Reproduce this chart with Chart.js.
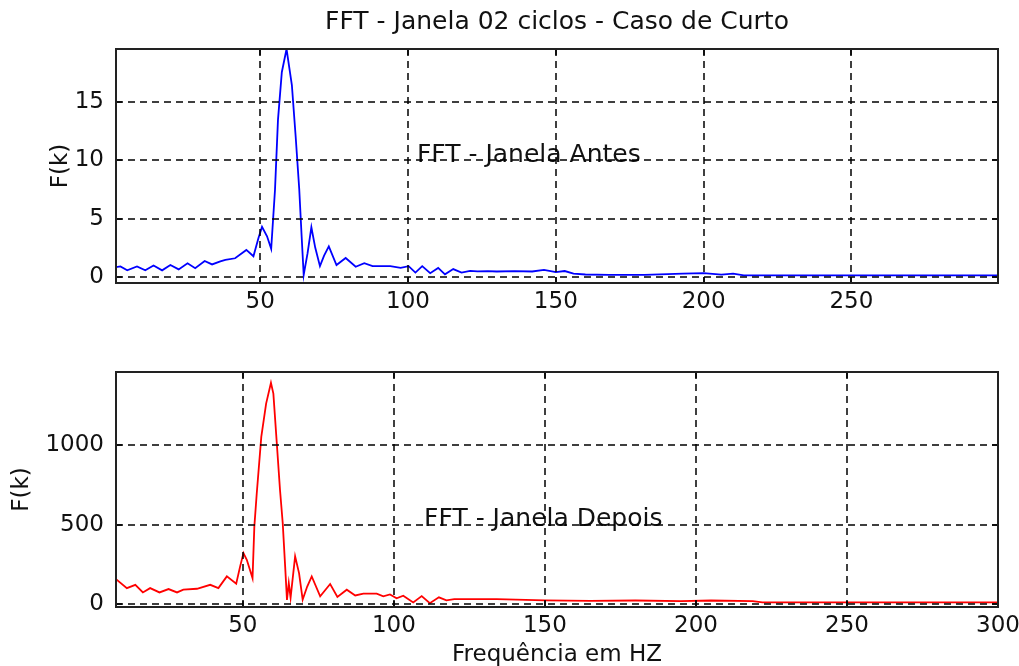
<!DOCTYPE html>
<html lang="pt-BR">
<head>
<meta charset="utf-8">
<title>FFT - Janela 02 ciclos - Caso de Curto</title>
<script src="https://cdn.jsdelivr.net/npm/chart.js@4.4.1/dist/chart.umd.min.js"></script>
<style>
    html, body { margin: 0; padding: 0; background: #fff; overflow: hidden; }
    #grafAntes { position: absolute; left: 0; top: 0; }
    #grafDepois { position: absolute; left: 0; top: 335px; }
</style>
</head>
<body>
<canvas id="grafAntes" width="1019" height="335"></canvas>
<canvas id="grafDepois" width="1019" height="340"></canvas>
<script>
// fft.js - Espectro da janela de 02 ciclos, antes e depois do curto

// Janela antes do curto (Hz / F(k))
const freqAntes = [
    1.2, 2.7, 5.0, 8.3, 11.1, 13.9, 16.8, 19.6, 22.4, 25.4, 28.0, 31.2, 33.7, 36.5, 38.2,
    41.5, 45.3, 47.7, 49.4, 50.6, 52.3, 53.7, 55.0, 56.0, 57.3, 58.9, 60.7, 62.0, 63.2, 64.0,
    64.7, 66.0, 67.3, 68.6, 70.2, 71.6, 73.2, 75.8, 78.9, 82.3, 85.2, 88.0, 94.0, 97.5, 100.2,
    102.5, 104.8, 107.5, 110.2, 112.5, 115.3, 118.1, 121.0, 123.5, 127.0, 130.0, 136.0, 142.0, 146.0, 150.0,
    153.0, 156.0, 160.0, 168.0, 180.0, 193.0, 200.0, 206.0, 210.0, 213.6, 299.6
];
const fkAntes = [
    0.82, 0.88, 0.55, 0.88, 0.54, 0.95, 0.54, 1.0, 0.62, 1.15, 0.72, 1.35, 1.05, 1.32, 1.45,
    1.58, 2.3, 1.75, 3.33, 4.28, 3.47, 2.4, 7.5, 13.5, 17.6, 19.6, 16.5, 12.0, 7.5, 3.5,
    0.15, 2.0, 4.25, 2.5, 0.9, 1.8, 2.6, 1.0, 1.6, 0.85, 1.15, 0.9, 0.9, 0.75, 0.9,
    0.35, 0.9, 0.3, 0.75, 0.2, 0.65, 0.35, 0.5, 0.45, 0.48, 0.44, 0.47, 0.44, 0.58, 0.38,
    0.48, 0.25, 0.18, 0.15, 0.15, 0.25, 0.3, 0.17, 0.25, 0.1, 0.1
];

// Janela depois do curto (Hz / F(k))
const freqDepois = [
    8.0, 11.6, 14.4, 16.9, 19.3, 22.4, 25.4, 28.2, 30.3, 34.8, 39.2, 41.9, 44.7, 47.8, 49.1,
    50.2, 51.3, 53.2, 53.8, 54.6, 56.1, 57.7, 59.3, 60.1, 61.2, 62.3, 63.2, 64.0, 64.6, 65.2,
    65.8, 67.3, 68.6, 69.8, 71.3, 72.8, 75.6, 78.9, 81.3, 84.4, 87.2, 89.9, 94.3, 96.5, 98.7,
    100.9, 103.1, 106.4, 109.2, 111.9, 114.9, 117.4, 120.0, 134.0, 150.0, 165.0, 180.0, 195.0, 205.0, 218.8,
    222.0, 300.0
];
const fkDepois = [
    157, 100, 121, 73, 100, 73, 94, 73, 90, 96, 121, 100, 174, 128, 237,
    321, 279, 163, 488, 698, 1054, 1264, 1395, 1327, 1023, 719, 509, 237, 25, 132,
    40, 300, 195, 28, 110, 174, 48, 126, 44, 90, 54, 65, 65, 48, 60,
    36, 52, 10, 50, 5, 42, 23, 31, 31, 23, 20, 22, 18, 22, 18,
    10, 10
];

// Limites e marcas dos eixos
const limX1 = [1.2, 299.6];
const limY1 = [-0.55, 19.6];
const limX2 = [8, 300];
const limY2 = [-19, 1463];
const ticksX1 = [50, 100, 150, 200, 250];
const ticksX2 = [50, 100, 150, 200, 250, 300];
const ticksY1 = [0, 5, 10, 15];
const ticksY2 = [0, 500, 1000];

const FONTE = '"DejaVu Sans", "Liberation Sans", sans-serif';
const COR_TEXTO = '#111';

// Grade tracejada por cima das curvas, marcas internas, moldura e texto
const quadro = {
    id: 'quadro',
    afterDatasetsDraw(chart, args, opts) {
        const { ctx, chartArea: a, scales: { x, y } } = chart;
        ctx.save();

        if (opts.texto) {
            ctx.font = '25px ' + FONTE;
            ctx.fillStyle = COR_TEXTO;
            ctx.textAlign = 'left';
            ctx.textBaseline = 'middle';
            ctx.fillText(opts.texto.label, x.getPixelForValue(opts.texto.x), y.getPixelForValue(opts.texto.y));
        }

        ctx.strokeStyle = '#000';
        ctx.lineWidth = 1.5;
        ctx.setLineDash([7, 5]);
        ctx.beginPath();
        x.ticks.forEach(t => {
            const px = Math.round(x.getPixelForValue(t.value));
            ctx.moveTo(px, a.top);
            ctx.lineTo(px, a.bottom);
        });
        y.ticks.forEach(t => {
            const py = Math.round(y.getPixelForValue(t.value));
            ctx.moveTo(a.left, py);
            ctx.lineTo(a.right, py);
        });
        ctx.stroke();

        ctx.setLineDash([]);
        ctx.beginPath();
        x.ticks.forEach(t => {
            const px = Math.round(x.getPixelForValue(t.value));
            ctx.moveTo(px, a.bottom); ctx.lineTo(px, a.bottom - 6);
            ctx.moveTo(px, a.top); ctx.lineTo(px, a.top + 6);
        });
        y.ticks.forEach(t => {
            const py = Math.round(y.getPixelForValue(t.value));
            ctx.moveTo(a.left, py); ctx.lineTo(a.left + 6, py);
            ctx.moveTo(a.right, py); ctx.lineTo(a.right - 6, py);
        });
        ctx.stroke();

        ctx.strokeStyle = '#222';
        ctx.lineWidth = 2;
        ctx.strokeRect(a.left, a.top, a.right - a.left, a.bottom - a.top);
        ctx.restore();
    }
};

function montarPontos(freq, valores) {
    return freq.map((f, i) => ({ x: f, y: valores[i] }));
}

function fixarTicks(lista) {
    return s => { s.ticks = lista.map(v => ({ value: v })); };
}

function escalaX(lim, marcas, altura, titulo) {
    return {
        type: 'linear',
        position: 'bottom',
        min: lim[0],
        max: lim[1],
        grid: { display: false, drawTicks: false },
        border: { display: false },
        afterBuildTicks: fixarTicks(marcas),
        ticks: {
            autoSkip: false,
            maxRotation: 0,
            padding: 5,
            color: COR_TEXTO,
            font: { family: FONTE, size: 23 },
            callback: v => String(v)
        },
        title: titulo ? {
            display: true,
            text: titulo,
            color: COR_TEXTO,
            font: { family: FONTE, size: 23 },
            padding: { top: 0, bottom: 6 }
        } : { display: false },
        afterFit(s) {
            s.height = altura;
            s.paddingLeft = 0;
            s.paddingRight = 0;
        }
    };
}

function escalaY(lim, marcas, largura) {
    return {
        type: 'linear',
        min: lim[0],
        max: lim[1],
        grid: { display: false, drawTicks: false },
        border: { display: false },
        afterBuildTicks: fixarTicks(marcas),
        ticks: {
            autoSkip: false,
            padding: 12,
            color: COR_TEXTO,
            font: { family: FONTE, size: 23 },
            callback: v => String(v)
        },
        title: {
            display: true,
            text: 'F(k)',
            color: COR_TEXTO,
            font: { family: FONTE, size: 23 },
            padding: 0
        },
        afterFit(s) {
            s.width = largura;
            s.paddingTop = 0;
            s.paddingBottom = 0;
        }
    };
}

function criarGrafico(id, cfg) {
    const ctx = document.getElementById(id).getContext('2d');
    return new Chart(ctx, {
        type: 'scatter',
        data: {
            datasets: [{
                data: montarPontos(cfg.freq, cfg.valores),
                showLine: true,
                borderColor: cfg.cor,
                borderWidth: 1.8,
                pointRadius: 0,
                tension: 0
            }]
        },
        options: {
            responsive: false,
            animation: false,
            devicePixelRatio: 1,
            layout: { padding: cfg.padding },
            plugins: {
                legend: { display: false },
                tooltip: { enabled: false },
                title: cfg.titulo ? {
                    display: true,
                    text: cfg.titulo,
                    fullSize: false,
                    color: COR_TEXTO,
                    font: { family: FONTE, size: 25, weight: 'normal' },
                    padding: { top: 7, bottom: 12 }
                } : { display: false },
                quadro: { texto: cfg.texto }
            },
            scales: {
                x: escalaX(cfg.limX, cfg.ticksX, cfg.alturaX, cfg.tituloX),
                y: escalaY(cfg.limY, cfg.ticksY, cfg.larguraY)
            }
        },
        plugins: [quadro]
    });
}

criarGrafico('grafAntes', {
    freq: freqAntes,
    valores: fkAntes,
    cor: '#0000ff',
    titulo: 'FFT - Janela 02 ciclos - Caso de Curto',
    padding: { left: 47, right: 21, top: 0, bottom: 0 },
    limX: limX1,
    limY: limY1,
    ticksX: ticksX1,
    ticksY: ticksY1,
    alturaX: 52,
    larguraY: 69,
    texto: { label: 'FFT - Janela Antes', x: 103, y: 10.4 }
});

criarGrafico('grafDepois', {
    freq: freqDepois,
    valores: fkDepois,
    cor: '#ff0000',
    padding: { left: 8, right: 21, top: 37, bottom: 0 },
    limX: limX2,
    limY: limY2,
    ticksX: ticksX2,
    ticksY: ticksY2,
    alturaX: 68,
    larguraY: 108,
    tituloX: 'Frequência em HZ',
    texto: { label: 'FFT - Janela Depois', x: 110, y: 530 }
});
</script>
</body>
</html>
